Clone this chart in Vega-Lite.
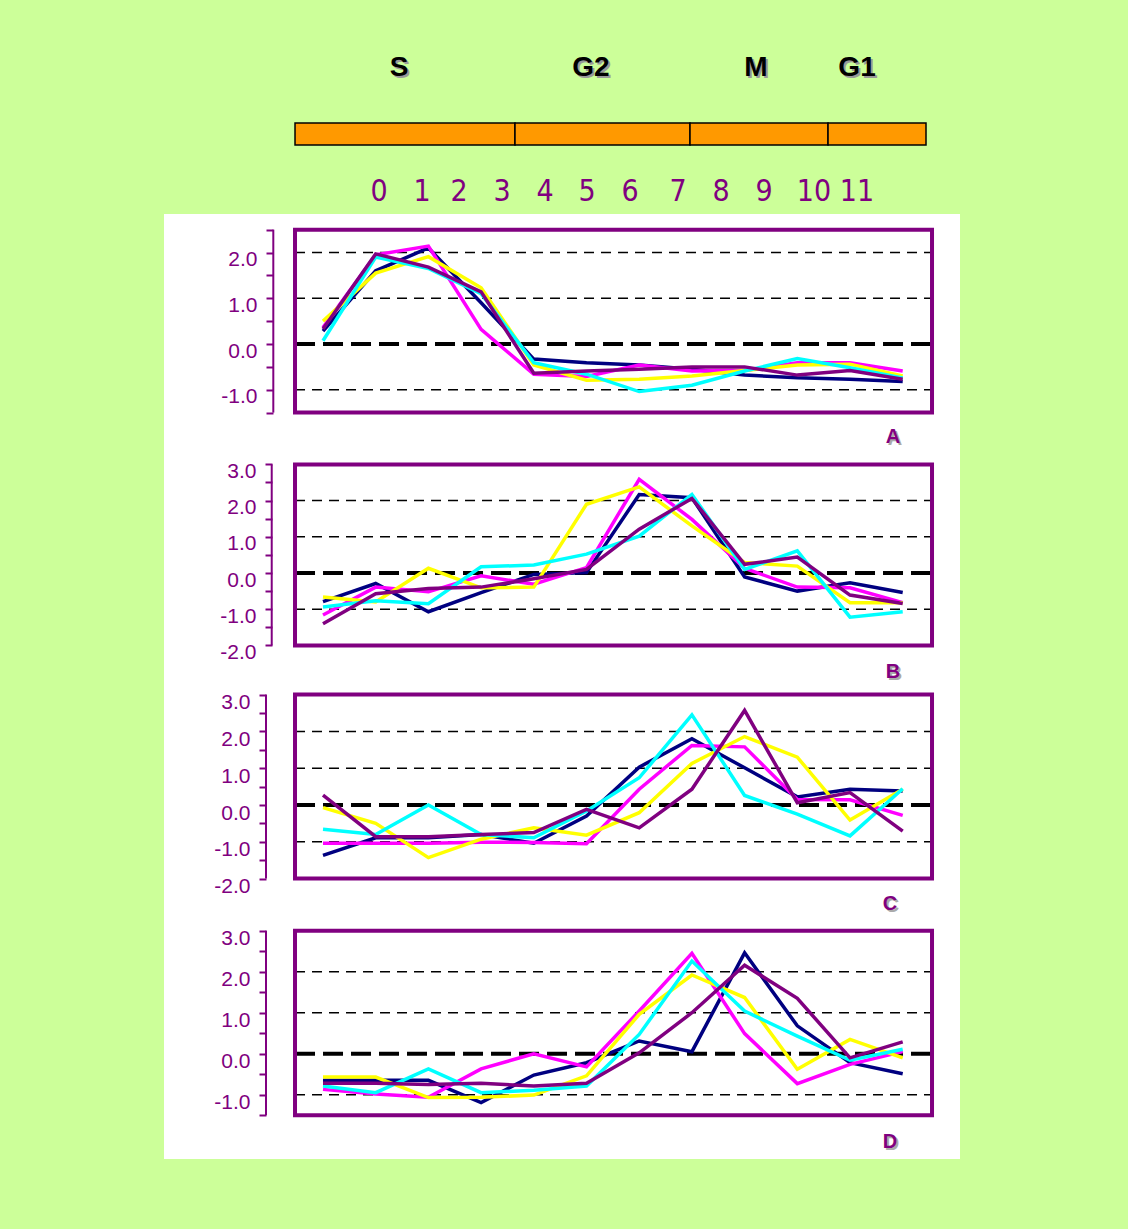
{
  "$schema": "https://vega.github.io/schema/vega-lite/v6.json",
  "background": "#ccff99",
  "padding": {"left": 164, "top": 53, "right": 168, "bottom": 71},
  "spacing": 0,
  "resolve": {"scale": {"x": "independent", "y": "independent"}},
  "config": {"view": {"stroke": null}},
  "datasets": {
    "phases": [
      {"phase": "S", "start": -0.531, "end": 3.643, "lx": 1.442},
      {"phase": "G2", "start": 3.643, "end": 6.964, "lx": 5.085},
      {"phase": "M", "start": 6.964, "end": 9.583, "lx": 8.216},
      {"phase": "G1", "start": 9.583, "end": 11.442, "lx": 10.133}
    ],
    "times": [
      {"t": "0", "hx": 1.063}, {"t": "1", "hx": 1.879}, {"t": "2", "hx": 2.581}, {"t": "3", "hx": 3.397},
      {"t": "4", "hx": 4.213}, {"t": "5", "hx": 5.010}, {"t": "6", "hx": 5.825}, {"t": "7", "hx": 6.736},
      {"t": "8", "hx": 7.552}, {"t": "9", "hx": 8.368}, {"t": "10", "hx": 9.317}, {"t": "11", "hx": 10.133}
    ],
    "A": [
      {"t": 0, "g1": 0.28, "g2": 0.36, "g3": 0.50, "g4": 0.07, "g5": 0.33},
      {"t": 1, "g1": 1.60, "g2": 1.95, "g3": 1.55, "g4": 1.90, "g5": 1.97},
      {"t": 2, "g1": 2.10, "g2": 2.14, "g3": 1.91, "g4": 1.65, "g5": 1.68},
      {"t": 3, "g1": 0.90, "g2": 0.32, "g3": 1.23, "g4": 1.10, "g5": 1.14},
      {"t": 4, "g1": -0.33, "g2": -0.66, "g3": -0.46, "g4": -0.41, "g5": -0.64},
      {"t": 5, "g1": -0.41, "g2": -0.71, "g3": -0.79, "g4": -0.66, "g5": -0.59},
      {"t": 6, "g1": -0.46, "g2": -0.46, "g3": -0.77, "g4": -1.04, "g5": -0.55},
      {"t": 7, "g1": -0.55, "g2": -0.59, "g3": -0.70, "g4": -0.90, "g5": -0.50},
      {"t": 8, "g1": -0.68, "g2": -0.58, "g3": -0.58, "g4": -0.59, "g5": -0.50},
      {"t": 9, "g1": -0.74, "g2": -0.41, "g3": -0.46, "g4": -0.32, "g5": -0.68},
      {"t": 10, "g1": -0.77, "g2": -0.41, "g3": -0.44, "g4": -0.52, "g5": -0.58},
      {"t": 11, "g1": -0.82, "g2": -0.59, "g3": -0.70, "g4": -0.74, "g5": -0.77}
    ],
    "B": [
      {"t": 0, "g1": -0.79, "g2": -1.16, "g3": -0.66, "g4": -0.94, "g5": -1.40},
      {"t": 1, "g1": -0.29, "g2": -0.39, "g3": -0.80, "g4": -0.77, "g5": -0.57},
      {"t": 2, "g1": -1.07, "g2": -0.52, "g3": 0.13, "g4": -0.85, "g5": -0.43},
      {"t": 3, "g1": -0.54, "g2": -0.08, "g3": -0.41, "g4": 0.17, "g5": -0.39},
      {"t": 4, "g1": -0.04, "g2": -0.31, "g3": -0.39, "g4": 0.22, "g5": -0.16},
      {"t": 5, "g1": 0.01, "g2": 0.15, "g3": 1.90, "g4": 0.52, "g5": 0.10},
      {"t": 6, "g1": 2.17, "g2": 2.59, "g3": 2.38, "g4": 1.02, "g5": 1.21},
      {"t": 7, "g1": 2.08, "g2": 1.48, "g3": 1.30, "g4": 2.17, "g5": 2.06},
      {"t": 8, "g1": -0.11, "g2": 0.13, "g3": 0.29, "g4": 0.10, "g5": 0.24},
      {"t": 9, "g1": -0.50, "g2": -0.39, "g3": 0.19, "g4": 0.61, "g5": 0.44},
      {"t": 10, "g1": -0.27, "g2": -0.41, "g3": -0.82, "g4": -1.22, "g5": -0.61},
      {"t": 11, "g1": -0.54, "g2": -0.82, "g3": -0.82, "g4": -1.07, "g5": -0.84}
    ],
    "C": [
      {"t": 0, "g1": -1.37, "g2": -1.04, "g3": -0.07, "g4": -0.66, "g5": 0.27},
      {"t": 1, "g1": -0.89, "g2": -1.04, "g3": -0.50, "g4": -0.80, "g5": -0.86},
      {"t": 2, "g1": -0.89, "g2": -1.04, "g3": -1.43, "g4": 0.00, "g5": -0.86},
      {"t": 3, "g1": -0.80, "g2": -1.01, "g3": -0.93, "g4": -0.80, "g5": -0.80},
      {"t": 4, "g1": -1.04, "g2": -1.02, "g3": -0.62, "g4": -0.89, "g5": -0.75},
      {"t": 5, "g1": -0.30, "g2": -1.05, "g3": -0.82, "g4": -0.16, "g5": -0.12},
      {"t": 6, "g1": 1.03, "g2": 0.43, "g3": -0.21, "g4": 0.74, "g5": -0.62},
      {"t": 7, "g1": 1.80, "g2": 1.62, "g3": 1.13, "g4": 2.45, "g5": 0.43},
      {"t": 8, "g1": 1.01, "g2": 1.58, "g3": 1.86, "g4": 0.26, "g5": 2.57},
      {"t": 9, "g1": 0.22, "g2": 0.15, "g3": 1.30, "g4": -0.25, "g5": 0.06},
      {"t": 10, "g1": 0.43, "g2": 0.14, "g3": -0.41, "g4": -0.84, "g5": 0.34},
      {"t": 11, "g1": 0.38, "g2": -0.28, "g3": 0.43, "g4": 0.44, "g5": -0.71}
    ],
    "D": [
      {"t": 0, "g1": -0.65, "g2": -0.87, "g3": -0.57, "g4": -0.79, "g5": -0.72},
      {"t": 1, "g1": -0.65, "g2": -0.98, "g3": -0.57, "g4": -0.95, "g5": -0.72},
      {"t": 2, "g1": -0.65, "g2": -1.06, "g3": -1.07, "g4": -0.37, "g5": -0.75},
      {"t": 3, "g1": -1.19, "g2": -0.37, "g3": -1.06, "g4": -0.95, "g5": -0.72},
      {"t": 4, "g1": -0.52, "g2": 0.00, "g3": -1.01, "g4": -0.89, "g5": -0.79},
      {"t": 5, "g1": -0.22, "g2": -0.32, "g3": -0.54, "g4": -0.79, "g5": -0.72},
      {"t": 6, "g1": 0.31, "g2": 1.04, "g3": 0.96, "g4": 0.47, "g5": 0.02},
      {"t": 7, "g1": 0.05, "g2": 2.45, "g3": 1.92, "g4": 2.26, "g5": 1.00},
      {"t": 8, "g1": 2.46, "g2": 0.49, "g3": 1.37, "g4": 1.04, "g5": 2.16},
      {"t": 9, "g1": 0.68, "g2": -0.73, "g3": -0.38, "g4": 0.43, "g5": 1.35},
      {"t": 10, "g1": -0.22, "g2": -0.26, "g3": 0.35, "g4": -0.16, "g5": -0.10},
      {"t": 11, "g1": -0.49, "g2": 0.05, "g3": -0.10, "g4": 0.11, "g5": 0.29}
    ]
  },
  "vconcat": [
    {
      "width": 796, "height": 160,
      "layer": [
        {"data": {"name": "phases"},
         "mark": {"type": "bar", "size": 22, "fill": "#ff9900", "stroke": "black", "strokeWidth": 1.5},
         "encoding": {
           "x": {"field": "start", "type": "quantitative", "scale": {"domain": [-3.017, 12.087], "nice": false, "zero": false}, "axis": null},
           "x2": {"field": "end"},
           "y": {"datum": "bar", "type": "nominal", "scale": {"type": "point", "domain": ["phase", "bar", "time"], "padding": 0.29}, "axis": null}}},
        {"data": {"name": "phases"},
         "mark": {"type": "text", "font": "Liberation Sans", "fontSize": 28, "fontWeight": "bold", "color": "#999999", "dx": 2, "dy": -2},
         "encoding": {
           "x": {"field": "lx", "type": "quantitative", "scale": {"domain": [-3.017, 12.087], "nice": false, "zero": false}, "axis": null},
           "y": {"datum": "phase", "type": "nominal", "scale": {"type": "point", "domain": ["phase", "bar", "time"], "padding": 0.29}, "axis": null},
           "text": {"field": "phase"}}},
        {"data": {"name": "phases"},
         "mark": {"type": "text", "font": "Liberation Sans", "fontSize": 28, "fontWeight": "bold", "color": "black", "dy": -4},
         "encoding": {
           "x": {"field": "lx", "type": "quantitative", "scale": {"domain": [-3.017, 12.087], "nice": false, "zero": false}, "axis": null},
           "y": {"datum": "phase", "type": "nominal", "scale": {"type": "point", "domain": ["phase", "bar", "time"], "padding": 0.29}, "axis": null},
           "text": {"field": "phase"}}},
        {"data": {"name": "times"},
         "mark": {"type": "text", "font": "'Liberation Sans Narrow', 'DejaVu Sans Condensed', 'Liberation Sans', sans-serif", "fontSize": 30, "color": "#800080", "dy": -4},
         "encoding": {
           "x": {"field": "hx", "type": "quantitative", "scale": {"domain": [-3.017, 12.087], "nice": false, "zero": false}, "axis": null},
           "y": {"datum": "time", "type": "nominal", "scale": {"type": "point", "domain": ["phase", "bar", "time"], "padding": 0.29}, "axis": null},
           "text": {"field": "t"}}}
      ]
    },
    {
      "width": 796, "height": 237,
      "view": {"fill": "white", "stroke": null},
      "data": {"name": "A"},
      "layer": [
        {"data": {"values": [{"g": -1}, {"g": 1}, {"g": 2}]},
         "mark": {"type": "rule", "color": "black", "strokeWidth": 1.5, "strokeDash": [10, 7]},
         "encoding": {
           "x": {"datum": -0.531, "type": "quantitative", "scale": {"domain": [-3.017, 12.087], "nice": false, "zero": false}, "axis": null},
           "x2": {"datum": 11.556},
           "y": {"field": "g", "type": "quantitative", "scale": {"domain": [-2.339, 2.842], "nice": false, "zero": false},
                 "axis": {"title": null, "offset": -109, "domain": false, "grid": false, "tickSize": 7, "tickWidth": 2, "tickColor": "#800080", "labelColor": "#800080", "labelFont": "Liberation Sans", "labelFontSize": 21, "labelPadding": 9, "labelBaseline": "top", "labelOffset": -4, "labelOverlap": false, "values": [-1, -1.5, 0, -0.5, 1, 0.5, 2, 1.5, 2.5], "labelExpr": "datum.value % 1 === 0 ? (datum.value < 0 ? '-' : '') + format(abs(datum.value), '.1f') : ''"}}}},
        {"data": {"values": [{"g": 0}]},
         "mark": {"type": "rule", "color": "black", "strokeWidth": 4, "strokeDash": [20, 8]},
         "encoding": {
           "x": {"datum": -0.531, "type": "quantitative", "scale": {"domain": [-3.017, 12.087], "nice": false, "zero": false}, "axis": null},
           "x2": {"datum": 11.556},
           "y": {"field": "g", "type": "quantitative", "scale": {"domain": [-2.339, 2.842], "nice": false, "zero": false},
                 "axis": {"title": null, "offset": -109, "domain": false, "grid": false, "tickSize": 7, "tickWidth": 2, "tickColor": "#800080", "labelColor": "#800080", "labelFont": "Liberation Sans", "labelFontSize": 21, "labelPadding": 9, "labelBaseline": "top", "labelOffset": -4, "labelOverlap": false, "values": [-1, -1.5, 0, -0.5, 1, 0.5, 2, 1.5, 2.5], "labelExpr": "datum.value % 1 === 0 ? (datum.value < 0 ? '-' : '') + format(abs(datum.value), '.1f') : ''"}}}},
        {"transform": [{"fold": ["g1", "g2", "g3", "g4", "g5"], "as": ["s", "v"]}],
         "mark": {"type": "line", "strokeWidth": 3.5},
         "encoding": {
           "x": {"field": "t", "type": "quantitative", "scale": {"domain": [-3.017, 12.087], "nice": false, "zero": false}, "axis": null},
           "y": {"field": "v", "type": "quantitative", "scale": {"domain": [-2.339, 2.842], "nice": false, "zero": false},
                 "axis": {"title": null, "offset": -109, "domain": false, "grid": false, "tickSize": 7, "tickWidth": 2, "tickColor": "#800080", "labelColor": "#800080", "labelFont": "Liberation Sans", "labelFontSize": 21, "labelPadding": 9, "labelBaseline": "top", "labelOffset": -4, "labelOverlap": false, "values": [-1, -1.5, 0, -0.5, 1, 0.5, 2, 1.5, 2.5], "labelExpr": "datum.value % 1 === 0 ? (datum.value < 0 ? '-' : '') + format(abs(datum.value), '.1f') : ''"}},
           "color": {"field": "s", "type": "nominal", "scale": {"domain": ["g1", "g2", "g3", "g4", "g5"], "range": ["#000080", "#ff00ff", "#ffff00", "#00ffff", "#800080"]}, "legend": null}}},
        {"data": {"values": [{}]},
         "mark": {"type": "rect", "fillOpacity": 0, "stroke": "#800080", "strokeWidth": 4},
         "encoding": {
           "x": {"datum": -0.531, "type": "quantitative", "scale": {"domain": [-3.017, 12.087], "nice": false, "zero": false}, "axis": null},
           "x2": {"datum": 11.556},
           "y": {"datum": -1.5, "type": "quantitative", "scale": {"domain": [-2.339, 2.842], "nice": false, "zero": false},
                 "axis": {"title": null, "offset": -109, "domain": false, "grid": false, "tickSize": 7, "tickWidth": 2, "tickColor": "#800080", "labelColor": "#800080", "labelFont": "Liberation Sans", "labelFontSize": 21, "labelPadding": 9, "labelBaseline": "top", "labelOffset": -4, "labelOverlap": false, "values": [-1, -1.5, 0, -0.5, 1, 0.5, 2, 1.5, 2.5], "labelExpr": "datum.value % 1 === 0 ? (datum.value < 0 ? '-' : '') + format(abs(datum.value), '.1f') : ''"}},
           "y2": {"datum": 2.5}}},
        {"data": {"values": [{}]},
         "mark": {"type": "rule", "color": "#800080", "strokeWidth": 2},
         "encoding": {
           "x": {"datum": -0.943, "type": "quantitative", "scale": {"domain": [-3.017, 12.087], "nice": false, "zero": false}, "axis": null},
           "y": {"datum": -1.5, "type": "quantitative", "scale": {"domain": [-2.339, 2.842], "nice": false, "zero": false},
                 "axis": {"title": null, "offset": -109, "domain": false, "grid": false, "tickSize": 7, "tickWidth": 2, "tickColor": "#800080", "labelColor": "#800080", "labelFont": "Liberation Sans", "labelFontSize": 21, "labelPadding": 9, "labelBaseline": "top", "labelOffset": -4, "labelOverlap": false, "values": [-1, -1.5, 0, -0.5, 1, 0.5, 2, 1.5, 2.5], "labelExpr": "datum.value % 1 === 0 ? (datum.value < 0 ? '-' : '') + format(abs(datum.value), '.1f') : ''"}},
           "y2": {"datum": 2.5}}},
        {"data": {"values": [{"p": "A"}]},
         "mark": {"type": "text", "font": "Liberation Sans", "fontSize": 20, "fontWeight": "bold", "color": "#aaaaaa", "dx": 2, "dy": 2},
         "encoding": {
           "x": {"datum": 10.816, "type": "quantitative", "scale": {"domain": [-3.017, 12.087], "nice": false, "zero": false}, "axis": null},
           "y": {"datum": -2.033, "type": "quantitative", "scale": {"domain": [-2.339, 2.842], "nice": false, "zero": false},
                 "axis": {"title": null, "offset": -109, "domain": false, "grid": false, "tickSize": 7, "tickWidth": 2, "tickColor": "#800080", "labelColor": "#800080", "labelFont": "Liberation Sans", "labelFontSize": 21, "labelPadding": 9, "labelBaseline": "top", "labelOffset": -4, "labelOverlap": false, "values": [-1, -1.5, 0, -0.5, 1, 0.5, 2, 1.5, 2.5], "labelExpr": "datum.value % 1 === 0 ? (datum.value < 0 ? '-' : '') + format(abs(datum.value), '.1f') : ''"}},
           "text": {"field": "p"}}},
        {"data": {"values": [{"p": "A"}]},
         "mark": {"type": "text", "font": "Liberation Sans", "fontSize": 20, "fontWeight": "bold", "color": "#800080"},
         "encoding": {
           "x": {"datum": 10.816, "type": "quantitative", "scale": {"domain": [-3.017, 12.087], "nice": false, "zero": false}, "axis": null},
           "y": {"datum": -2.033, "type": "quantitative", "scale": {"domain": [-2.339, 2.842], "nice": false, "zero": false},
                 "axis": {"title": null, "offset": -109, "domain": false, "grid": false, "tickSize": 7, "tickWidth": 2, "tickColor": "#800080", "labelColor": "#800080", "labelFont": "Liberation Sans", "labelFontSize": 21, "labelPadding": 9, "labelBaseline": "top", "labelOffset": -4, "labelOverlap": false, "values": [-1, -1.5, 0, -0.5, 1, 0.5, 2, 1.5, 2.5], "labelExpr": "datum.value % 1 === 0 ? (datum.value < 0 ? '-' : '') + format(abs(datum.value), '.1f') : ''"}},
           "text": {"field": "p"}}}
      ]
    },
    {
      "width": 796, "height": 236,
      "view": {"fill": "white", "stroke": null},
      "data": {"name": "B"},
      "layer": [
        {"data": {"values": [{"g": -1}, {"g": 1}, {"g": 2}]},
         "mark": {"type": "rule", "color": "black", "strokeWidth": 1.5, "strokeDash": [10, 7]},
         "encoding": {
           "x": {"datum": -0.531, "type": "quantitative", "scale": {"domain": [-3.017, 12.087], "nice": false, "zero": false}, "axis": null},
           "x2": {"datum": 11.556},
           "y": {"field": "g", "type": "quantitative", "scale": {"domain": [-3.149, 3.370], "nice": false, "zero": false},
                 "axis": {"title": null, "offset": -108, "domain": false, "grid": false, "tickSize": 7, "tickWidth": 2, "tickColor": "#800080", "labelColor": "#800080", "labelFont": "Liberation Sans", "labelFontSize": 21, "labelPadding": 9, "labelBaseline": "top", "labelOffset": -4, "labelOverlap": false, "values": [-2, -1.5, -1, -0.5, 0, 0.5, 1, 1.5, 2, 2.5, 3], "labelExpr": "datum.value % 1 === 0 ? (datum.value < 0 ? '-' : '') + format(abs(datum.value), '.1f') : ''"}}}},
        {"data": {"values": [{"g": 0}]},
         "mark": {"type": "rule", "color": "black", "strokeWidth": 4, "strokeDash": [20, 8]},
         "encoding": {
           "x": {"datum": -0.531, "type": "quantitative", "scale": {"domain": [-3.017, 12.087], "nice": false, "zero": false}, "axis": null},
           "x2": {"datum": 11.556},
           "y": {"field": "g", "type": "quantitative", "scale": {"domain": [-3.149, 3.370], "nice": false, "zero": false},
                 "axis": {"title": null, "offset": -108, "domain": false, "grid": false, "tickSize": 7, "tickWidth": 2, "tickColor": "#800080", "labelColor": "#800080", "labelFont": "Liberation Sans", "labelFontSize": 21, "labelPadding": 9, "labelBaseline": "top", "labelOffset": -4, "labelOverlap": false, "values": [-2, -1.5, -1, -0.5, 0, 0.5, 1, 1.5, 2, 2.5, 3], "labelExpr": "datum.value % 1 === 0 ? (datum.value < 0 ? '-' : '') + format(abs(datum.value), '.1f') : ''"}}}},
        {"transform": [{"fold": ["g1", "g2", "g3", "g4", "g5"], "as": ["s", "v"]}],
         "mark": {"type": "line", "strokeWidth": 3.5},
         "encoding": {
           "x": {"field": "t", "type": "quantitative", "scale": {"domain": [-3.017, 12.087], "nice": false, "zero": false}, "axis": null},
           "y": {"field": "v", "type": "quantitative", "scale": {"domain": [-3.149, 3.370], "nice": false, "zero": false},
                 "axis": {"title": null, "offset": -108, "domain": false, "grid": false, "tickSize": 7, "tickWidth": 2, "tickColor": "#800080", "labelColor": "#800080", "labelFont": "Liberation Sans", "labelFontSize": 21, "labelPadding": 9, "labelBaseline": "top", "labelOffset": -4, "labelOverlap": false, "values": [-2, -1.5, -1, -0.5, 0, 0.5, 1, 1.5, 2, 2.5, 3], "labelExpr": "datum.value % 1 === 0 ? (datum.value < 0 ? '-' : '') + format(abs(datum.value), '.1f') : ''"}},
           "color": {"field": "s", "type": "nominal", "scale": {"domain": ["g1", "g2", "g3", "g4", "g5"], "range": ["#000080", "#ff00ff", "#ffff00", "#00ffff", "#800080"]}, "legend": null}}},
        {"data": {"values": [{}]},
         "mark": {"type": "rect", "fillOpacity": 0, "stroke": "#800080", "strokeWidth": 4},
         "encoding": {
           "x": {"datum": -0.531, "type": "quantitative", "scale": {"domain": [-3.017, 12.087], "nice": false, "zero": false}, "axis": null},
           "x2": {"datum": 11.556},
           "y": {"datum": -2, "type": "quantitative", "scale": {"domain": [-3.149, 3.370], "nice": false, "zero": false},
                 "axis": {"title": null, "offset": -108, "domain": false, "grid": false, "tickSize": 7, "tickWidth": 2, "tickColor": "#800080", "labelColor": "#800080", "labelFont": "Liberation Sans", "labelFontSize": 21, "labelPadding": 9, "labelBaseline": "top", "labelOffset": -4, "labelOverlap": false, "values": [-2, -1.5, -1, -0.5, 0, 0.5, 1, 1.5, 2, 2.5, 3], "labelExpr": "datum.value % 1 === 0 ? (datum.value < 0 ? '-' : '') + format(abs(datum.value), '.1f') : ''"}},
           "y2": {"datum": 3}}},
        {"data": {"values": [{}]},
         "mark": {"type": "rule", "color": "#800080", "strokeWidth": 2},
         "encoding": {
           "x": {"datum": -0.973, "type": "quantitative", "scale": {"domain": [-3.017, 12.087], "nice": false, "zero": false}, "axis": null},
           "y": {"datum": -2, "type": "quantitative", "scale": {"domain": [-3.149, 3.370], "nice": false, "zero": false},
                 "axis": {"title": null, "offset": -108, "domain": false, "grid": false, "tickSize": 7, "tickWidth": 2, "tickColor": "#800080", "labelColor": "#800080", "labelFont": "Liberation Sans", "labelFontSize": 21, "labelPadding": 9, "labelBaseline": "top", "labelOffset": -4, "labelOverlap": false, "values": [-2, -1.5, -1, -0.5, 0, 0.5, 1, 1.5, 2, 2.5, 3], "labelExpr": "datum.value % 1 === 0 ? (datum.value < 0 ? '-' : '') + format(abs(datum.value), '.1f') : ''"}},
           "y2": {"datum": 3}}},
        {"data": {"values": [{"p": "B"}]},
         "mark": {"type": "text", "font": "Liberation Sans", "fontSize": 20, "fontWeight": "bold", "color": "#aaaaaa", "dx": 2, "dy": 2},
         "encoding": {
           "x": {"datum": 10.816, "type": "quantitative", "scale": {"domain": [-3.017, 12.087], "nice": false, "zero": false}, "axis": null},
           "y": {"datum": -2.735, "type": "quantitative", "scale": {"domain": [-3.149, 3.370], "nice": false, "zero": false},
                 "axis": {"title": null, "offset": -108, "domain": false, "grid": false, "tickSize": 7, "tickWidth": 2, "tickColor": "#800080", "labelColor": "#800080", "labelFont": "Liberation Sans", "labelFontSize": 21, "labelPadding": 9, "labelBaseline": "top", "labelOffset": -4, "labelOverlap": false, "values": [-2, -1.5, -1, -0.5, 0, 0.5, 1, 1.5, 2, 2.5, 3], "labelExpr": "datum.value % 1 === 0 ? (datum.value < 0 ? '-' : '') + format(abs(datum.value), '.1f') : ''"}},
           "text": {"field": "p"}}},
        {"data": {"values": [{"p": "B"}]},
         "mark": {"type": "text", "font": "Liberation Sans", "fontSize": 20, "fontWeight": "bold", "color": "#800080"},
         "encoding": {
           "x": {"datum": 10.816, "type": "quantitative", "scale": {"domain": [-3.017, 12.087], "nice": false, "zero": false}, "axis": null},
           "y": {"datum": -2.735, "type": "quantitative", "scale": {"domain": [-3.149, 3.370], "nice": false, "zero": false},
                 "axis": {"title": null, "offset": -108, "domain": false, "grid": false, "tickSize": 7, "tickWidth": 2, "tickColor": "#800080", "labelColor": "#800080", "labelFont": "Liberation Sans", "labelFontSize": 21, "labelPadding": 9, "labelBaseline": "top", "labelOffset": -4, "labelOverlap": false, "values": [-2, -1.5, -1, -0.5, 0, 0.5, 1, 1.5, 2, 2.5, 3], "labelExpr": "datum.value % 1 === 0 ? (datum.value < 0 ? '-' : '') + format(abs(datum.value), '.1f') : ''"}},
           "text": {"field": "p"}}}
      ]
    },
    {
      "width": 796, "height": 231,
      "view": {"fill": "white", "stroke": null},
      "data": {"name": "C"},
      "layer": [
        {"data": {"values": [{"g": -1}, {"g": 1}, {"g": 2}]},
         "mark": {"type": "rule", "color": "black", "strokeWidth": 1.5, "strokeDash": [10, 7]},
         "encoding": {
           "x": {"datum": -0.531, "type": "quantitative", "scale": {"domain": [-3.017, 12.087], "nice": false, "zero": false}, "axis": null},
           "x2": {"datum": 11.556},
           "y": {"field": "g", "type": "quantitative", "scale": {"domain": [-3.071, 3.207], "nice": false, "zero": false},
                 "axis": {"title": null, "offset": -102, "domain": false, "grid": false, "tickSize": 7, "tickWidth": 2, "tickColor": "#800080", "labelColor": "#800080", "labelFont": "Liberation Sans", "labelFontSize": 21, "labelPadding": 9, "labelBaseline": "top", "labelOffset": -3, "labelOverlap": false, "values": [-2, -1.5, -1, -0.5, 0, 0.5, 1, 1.5, 2, 2.5, 3], "labelExpr": "datum.value % 1 === 0 ? (datum.value < 0 ? '-' : '') + format(abs(datum.value), '.1f') : ''"}}}},
        {"data": {"values": [{"g": 0}]},
         "mark": {"type": "rule", "color": "black", "strokeWidth": 4, "strokeDash": [20, 8]},
         "encoding": {
           "x": {"datum": -0.531, "type": "quantitative", "scale": {"domain": [-3.017, 12.087], "nice": false, "zero": false}, "axis": null},
           "x2": {"datum": 11.556},
           "y": {"field": "g", "type": "quantitative", "scale": {"domain": [-3.071, 3.207], "nice": false, "zero": false},
                 "axis": {"title": null, "offset": -102, "domain": false, "grid": false, "tickSize": 7, "tickWidth": 2, "tickColor": "#800080", "labelColor": "#800080", "labelFont": "Liberation Sans", "labelFontSize": 21, "labelPadding": 9, "labelBaseline": "top", "labelOffset": -3, "labelOverlap": false, "values": [-2, -1.5, -1, -0.5, 0, 0.5, 1, 1.5, 2, 2.5, 3], "labelExpr": "datum.value % 1 === 0 ? (datum.value < 0 ? '-' : '') + format(abs(datum.value), '.1f') : ''"}}}},
        {"transform": [{"fold": ["g1", "g2", "g3", "g4", "g5"], "as": ["s", "v"]}],
         "mark": {"type": "line", "strokeWidth": 3.5},
         "encoding": {
           "x": {"field": "t", "type": "quantitative", "scale": {"domain": [-3.017, 12.087], "nice": false, "zero": false}, "axis": null},
           "y": {"field": "v", "type": "quantitative", "scale": {"domain": [-3.071, 3.207], "nice": false, "zero": false},
                 "axis": {"title": null, "offset": -102, "domain": false, "grid": false, "tickSize": 7, "tickWidth": 2, "tickColor": "#800080", "labelColor": "#800080", "labelFont": "Liberation Sans", "labelFontSize": 21, "labelPadding": 9, "labelBaseline": "top", "labelOffset": -3, "labelOverlap": false, "values": [-2, -1.5, -1, -0.5, 0, 0.5, 1, 1.5, 2, 2.5, 3], "labelExpr": "datum.value % 1 === 0 ? (datum.value < 0 ? '-' : '') + format(abs(datum.value), '.1f') : ''"}},
           "color": {"field": "s", "type": "nominal", "scale": {"domain": ["g1", "g2", "g3", "g4", "g5"], "range": ["#000080", "#ff00ff", "#ffff00", "#00ffff", "#800080"]}, "legend": null}}},
        {"data": {"values": [{}]},
         "mark": {"type": "rect", "fillOpacity": 0, "stroke": "#800080", "strokeWidth": 4},
         "encoding": {
           "x": {"datum": -0.531, "type": "quantitative", "scale": {"domain": [-3.017, 12.087], "nice": false, "zero": false}, "axis": null},
           "x2": {"datum": 11.556},
           "y": {"datum": -2, "type": "quantitative", "scale": {"domain": [-3.071, 3.207], "nice": false, "zero": false},
                 "axis": {"title": null, "offset": -102, "domain": false, "grid": false, "tickSize": 7, "tickWidth": 2, "tickColor": "#800080", "labelColor": "#800080", "labelFont": "Liberation Sans", "labelFontSize": 21, "labelPadding": 9, "labelBaseline": "top", "labelOffset": -3, "labelOverlap": false, "values": [-2, -1.5, -1, -0.5, 0, 0.5, 1, 1.5, 2, 2.5, 3], "labelExpr": "datum.value % 1 === 0 ? (datum.value < 0 ? '-' : '') + format(abs(datum.value), '.1f') : ''"}},
           "y2": {"datum": 3}}},
        {"data": {"values": [{}]},
         "mark": {"type": "rule", "color": "#800080", "strokeWidth": 2},
         "encoding": {
           "x": {"datum": -1.082, "type": "quantitative", "scale": {"domain": [-3.017, 12.087], "nice": false, "zero": false}, "axis": null},
           "y": {"datum": -2, "type": "quantitative", "scale": {"domain": [-3.071, 3.207], "nice": false, "zero": false},
                 "axis": {"title": null, "offset": -102, "domain": false, "grid": false, "tickSize": 7, "tickWidth": 2, "tickColor": "#800080", "labelColor": "#800080", "labelFont": "Liberation Sans", "labelFontSize": 21, "labelPadding": 9, "labelBaseline": "top", "labelOffset": -3, "labelOverlap": false, "values": [-2, -1.5, -1, -0.5, 0, 0.5, 1, 1.5, 2, 2.5, 3], "labelExpr": "datum.value % 1 === 0 ? (datum.value < 0 ? '-' : '') + format(abs(datum.value), '.1f') : ''"}},
           "y2": {"datum": 3}}},
        {"data": {"values": [{"p": "C"}]},
         "mark": {"type": "text", "font": "Liberation Sans", "fontSize": 20, "fontWeight": "bold", "color": "#aaaaaa", "dx": 2, "dy": 2},
         "encoding": {
           "x": {"datum": 10.76, "type": "quantitative", "scale": {"domain": [-3.017, 12.087], "nice": false, "zero": false}, "axis": null},
           "y": {"datum": -2.69, "type": "quantitative", "scale": {"domain": [-3.071, 3.207], "nice": false, "zero": false},
                 "axis": {"title": null, "offset": -102, "domain": false, "grid": false, "tickSize": 7, "tickWidth": 2, "tickColor": "#800080", "labelColor": "#800080", "labelFont": "Liberation Sans", "labelFontSize": 21, "labelPadding": 9, "labelBaseline": "top", "labelOffset": -3, "labelOverlap": false, "values": [-2, -1.5, -1, -0.5, 0, 0.5, 1, 1.5, 2, 2.5, 3], "labelExpr": "datum.value % 1 === 0 ? (datum.value < 0 ? '-' : '') + format(abs(datum.value), '.1f') : ''"}},
           "text": {"field": "p"}}},
        {"data": {"values": [{"p": "C"}]},
         "mark": {"type": "text", "font": "Liberation Sans", "fontSize": 20, "fontWeight": "bold", "color": "#800080"},
         "encoding": {
           "x": {"datum": 10.76, "type": "quantitative", "scale": {"domain": [-3.017, 12.087], "nice": false, "zero": false}, "axis": null},
           "y": {"datum": -2.69, "type": "quantitative", "scale": {"domain": [-3.071, 3.207], "nice": false, "zero": false},
                 "axis": {"title": null, "offset": -102, "domain": false, "grid": false, "tickSize": 7, "tickWidth": 2, "tickColor": "#800080", "labelColor": "#800080", "labelFont": "Liberation Sans", "labelFontSize": 21, "labelPadding": 9, "labelBaseline": "top", "labelOffset": -3, "labelOverlap": false, "values": [-2, -1.5, -1, -0.5, 0, 0.5, 1, 1.5, 2, 2.5, 3], "labelExpr": "datum.value % 1 === 0 ? (datum.value < 0 ? '-' : '') + format(abs(datum.value), '.1f') : ''"}},
           "text": {"field": "p"}}}
      ]
    },
    {
      "width": 796, "height": 241,
      "view": {"fill": "white", "stroke": null},
      "data": {"name": "D"},
      "layer": [
        {"data": {"values": [{"g": -1}, {"g": 1}, {"g": 2}]},
         "mark": {"type": "rule", "color": "black", "strokeWidth": 1.5, "strokeDash": [10, 7]},
         "encoding": {
           "x": {"datum": -0.531, "type": "quantitative", "scale": {"domain": [-3.017, 12.087], "nice": false, "zero": false}, "axis": null},
           "x2": {"datum": 11.556},
           "y": {"field": "g", "type": "quantitative", "scale": {"domain": [-2.568, 3.310], "nice": false, "zero": false},
                 "axis": {"title": null, "offset": -102, "domain": false, "grid": false, "tickSize": 7, "tickWidth": 2, "tickColor": "#800080", "labelColor": "#800080", "labelFont": "Liberation Sans", "labelFontSize": 21, "labelPadding": 9, "labelBaseline": "top", "labelOffset": -3, "labelOverlap": false, "values": [-1, -1.5, 0, -0.5, 1, 0.5, 2, 1.5, 3, 2.5], "labelExpr": "datum.value % 1 === 0 ? (datum.value < 0 ? '-' : '') + format(abs(datum.value), '.1f') : ''"}}}},
        {"data": {"values": [{"g": 0}]},
         "mark": {"type": "rule", "color": "black", "strokeWidth": 4, "strokeDash": [20, 8]},
         "encoding": {
           "x": {"datum": -0.531, "type": "quantitative", "scale": {"domain": [-3.017, 12.087], "nice": false, "zero": false}, "axis": null},
           "x2": {"datum": 11.556},
           "y": {"field": "g", "type": "quantitative", "scale": {"domain": [-2.568, 3.310], "nice": false, "zero": false},
                 "axis": {"title": null, "offset": -102, "domain": false, "grid": false, "tickSize": 7, "tickWidth": 2, "tickColor": "#800080", "labelColor": "#800080", "labelFont": "Liberation Sans", "labelFontSize": 21, "labelPadding": 9, "labelBaseline": "top", "labelOffset": -3, "labelOverlap": false, "values": [-1, -1.5, 0, -0.5, 1, 0.5, 2, 1.5, 3, 2.5], "labelExpr": "datum.value % 1 === 0 ? (datum.value < 0 ? '-' : '') + format(abs(datum.value), '.1f') : ''"}}}},
        {"transform": [{"fold": ["g1", "g2", "g3", "g4", "g5"], "as": ["s", "v"]}],
         "mark": {"type": "line", "strokeWidth": 3.5},
         "encoding": {
           "x": {"field": "t", "type": "quantitative", "scale": {"domain": [-3.017, 12.087], "nice": false, "zero": false}, "axis": null},
           "y": {"field": "v", "type": "quantitative", "scale": {"domain": [-2.568, 3.310], "nice": false, "zero": false},
                 "axis": {"title": null, "offset": -102, "domain": false, "grid": false, "tickSize": 7, "tickWidth": 2, "tickColor": "#800080", "labelColor": "#800080", "labelFont": "Liberation Sans", "labelFontSize": 21, "labelPadding": 9, "labelBaseline": "top", "labelOffset": -3, "labelOverlap": false, "values": [-1, -1.5, 0, -0.5, 1, 0.5, 2, 1.5, 3, 2.5], "labelExpr": "datum.value % 1 === 0 ? (datum.value < 0 ? '-' : '') + format(abs(datum.value), '.1f') : ''"}},
           "color": {"field": "s", "type": "nominal", "scale": {"domain": ["g1", "g2", "g3", "g4", "g5"], "range": ["#000080", "#ff00ff", "#ffff00", "#00ffff", "#800080"]}, "legend": null}}},
        {"data": {"values": [{}]},
         "mark": {"type": "rect", "fillOpacity": 0, "stroke": "#800080", "strokeWidth": 4},
         "encoding": {
           "x": {"datum": -0.531, "type": "quantitative", "scale": {"domain": [-3.017, 12.087], "nice": false, "zero": false}, "axis": null},
           "x2": {"datum": 11.556},
           "y": {"datum": -1.5, "type": "quantitative", "scale": {"domain": [-2.568, 3.310], "nice": false, "zero": false},
                 "axis": {"title": null, "offset": -102, "domain": false, "grid": false, "tickSize": 7, "tickWidth": 2, "tickColor": "#800080", "labelColor": "#800080", "labelFont": "Liberation Sans", "labelFontSize": 21, "labelPadding": 9, "labelBaseline": "top", "labelOffset": -3, "labelOverlap": false, "values": [-1, -1.5, 0, -0.5, 1, 0.5, 2, 1.5, 3, 2.5], "labelExpr": "datum.value % 1 === 0 ? (datum.value < 0 ? '-' : '') + format(abs(datum.value), '.1f') : ''"}},
           "y2": {"datum": 3}}},
        {"data": {"values": [{}]},
         "mark": {"type": "rule", "color": "#800080", "strokeWidth": 2},
         "encoding": {
           "x": {"datum": -1.082, "type": "quantitative", "scale": {"domain": [-3.017, 12.087], "nice": false, "zero": false}, "axis": null},
           "y": {"datum": -1.5, "type": "quantitative", "scale": {"domain": [-2.568, 3.310], "nice": false, "zero": false},
                 "axis": {"title": null, "offset": -102, "domain": false, "grid": false, "tickSize": 7, "tickWidth": 2, "tickColor": "#800080", "labelColor": "#800080", "labelFont": "Liberation Sans", "labelFontSize": 21, "labelPadding": 9, "labelBaseline": "top", "labelOffset": -3, "labelOverlap": false, "values": [-1, -1.5, 0, -0.5, 1, 0.5, 2, 1.5, 3, 2.5], "labelExpr": "datum.value % 1 === 0 ? (datum.value < 0 ? '-' : '') + format(abs(datum.value), '.1f') : ''"}},
           "y2": {"datum": 3}}},
        {"data": {"values": [{"p": "D"}]},
         "mark": {"type": "text", "font": "Liberation Sans", "fontSize": 20, "fontWeight": "bold", "color": "#aaaaaa", "dx": 2, "dy": 2},
         "encoding": {
           "x": {"datum": 10.76, "type": "quantitative", "scale": {"domain": [-3.017, 12.087], "nice": false, "zero": false}, "axis": null},
           "y": {"datum": -2.154, "type": "quantitative", "scale": {"domain": [-2.568, 3.310], "nice": false, "zero": false},
                 "axis": {"title": null, "offset": -102, "domain": false, "grid": false, "tickSize": 7, "tickWidth": 2, "tickColor": "#800080", "labelColor": "#800080", "labelFont": "Liberation Sans", "labelFontSize": 21, "labelPadding": 9, "labelBaseline": "top", "labelOffset": -3, "labelOverlap": false, "values": [-1, -1.5, 0, -0.5, 1, 0.5, 2, 1.5, 3, 2.5], "labelExpr": "datum.value % 1 === 0 ? (datum.value < 0 ? '-' : '') + format(abs(datum.value), '.1f') : ''"}},
           "text": {"field": "p"}}},
        {"data": {"values": [{"p": "D"}]},
         "mark": {"type": "text", "font": "Liberation Sans", "fontSize": 20, "fontWeight": "bold", "color": "#800080"},
         "encoding": {
           "x": {"datum": 10.76, "type": "quantitative", "scale": {"domain": [-3.017, 12.087], "nice": false, "zero": false}, "axis": null},
           "y": {"datum": -2.154, "type": "quantitative", "scale": {"domain": [-2.568, 3.310], "nice": false, "zero": false},
                 "axis": {"title": null, "offset": -102, "domain": false, "grid": false, "tickSize": 7, "tickWidth": 2, "tickColor": "#800080", "labelColor": "#800080", "labelFont": "Liberation Sans", "labelFontSize": 21, "labelPadding": 9, "labelBaseline": "top", "labelOffset": -3, "labelOverlap": false, "values": [-1, -1.5, 0, -0.5, 1, 0.5, 2, 1.5, 3, 2.5], "labelExpr": "datum.value % 1 === 0 ? (datum.value < 0 ? '-' : '') + format(abs(datum.value), '.1f') : ''"}},
           "text": {"field": "p"}}}
      ]
    }
  ]
}
